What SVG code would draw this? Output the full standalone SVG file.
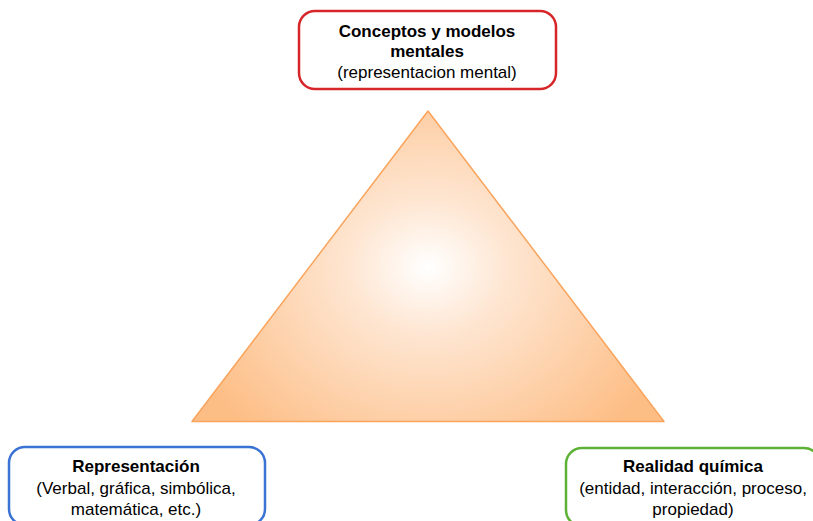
<svg xmlns="http://www.w3.org/2000/svg" width="813" height="521" viewBox="0 0 813 521">
<defs>
<radialGradient id="g" gradientUnits="userSpaceOnUse" cx="428" cy="267" r="260" gradientTransform="translate(428 267) scale(1 0.85) translate(-428 -267)">
<stop offset="0" stop-color="#FFFFFF"/>
<stop offset="0.3" stop-color="#FEE6D2"/>
<stop offset="1" stop-color="#FDBE86"/>
</radialGradient>
<style>
.box{fill:#FFFFFF;stroke-width:2.5}
.t{font-family:"Liberation Sans",Arial,sans-serif;font-size:17px;fill:#000;text-anchor:middle}
.b{font-weight:bold}
</style>
</defs>
<rect width="813" height="521" fill="#FFFFFF"/>
<g id="triangle">
<polygon points="428,111 192,421.5 664,421.5" fill="url(#g)" stroke="#F9A45C" stroke-width="1.5" stroke-linejoin="round"/>
</g>
<g id="connectors"/>
<g id="conceptos">
<rect class="box" x="299" y="11" width="257" height="78" rx="16" stroke="#D7262A"/>
<text class="t b" x="427" y="37">Conceptos y modelos</text>
<text class="t b" x="427" y="57">mentales</text>
<text class="t" x="427" y="78">(representacion mental)</text>
</g>
<g id="representacion">
<rect class="box" x="9" y="447" width="256" height="78" rx="16" stroke="#3B73D5"/>
<text class="t b" x="136" y="472">Representación</text>
<text class="t" x="136" y="494">(Verbal, gráfica, simbólica,</text>
<text class="t" x="136" y="515">matemática, etc.)</text>
</g>
<g id="realidad">
<rect class="box" x="566" y="448" width="254" height="78" rx="16" stroke="#5DB236"/>
<text class="t b" x="693" y="472">Realidad química</text>
<text class="t" x="693" y="494">(entidad, interacción, proceso,</text>
<text class="t" x="693" y="515">propiedad)</text>
</g>
</svg>
